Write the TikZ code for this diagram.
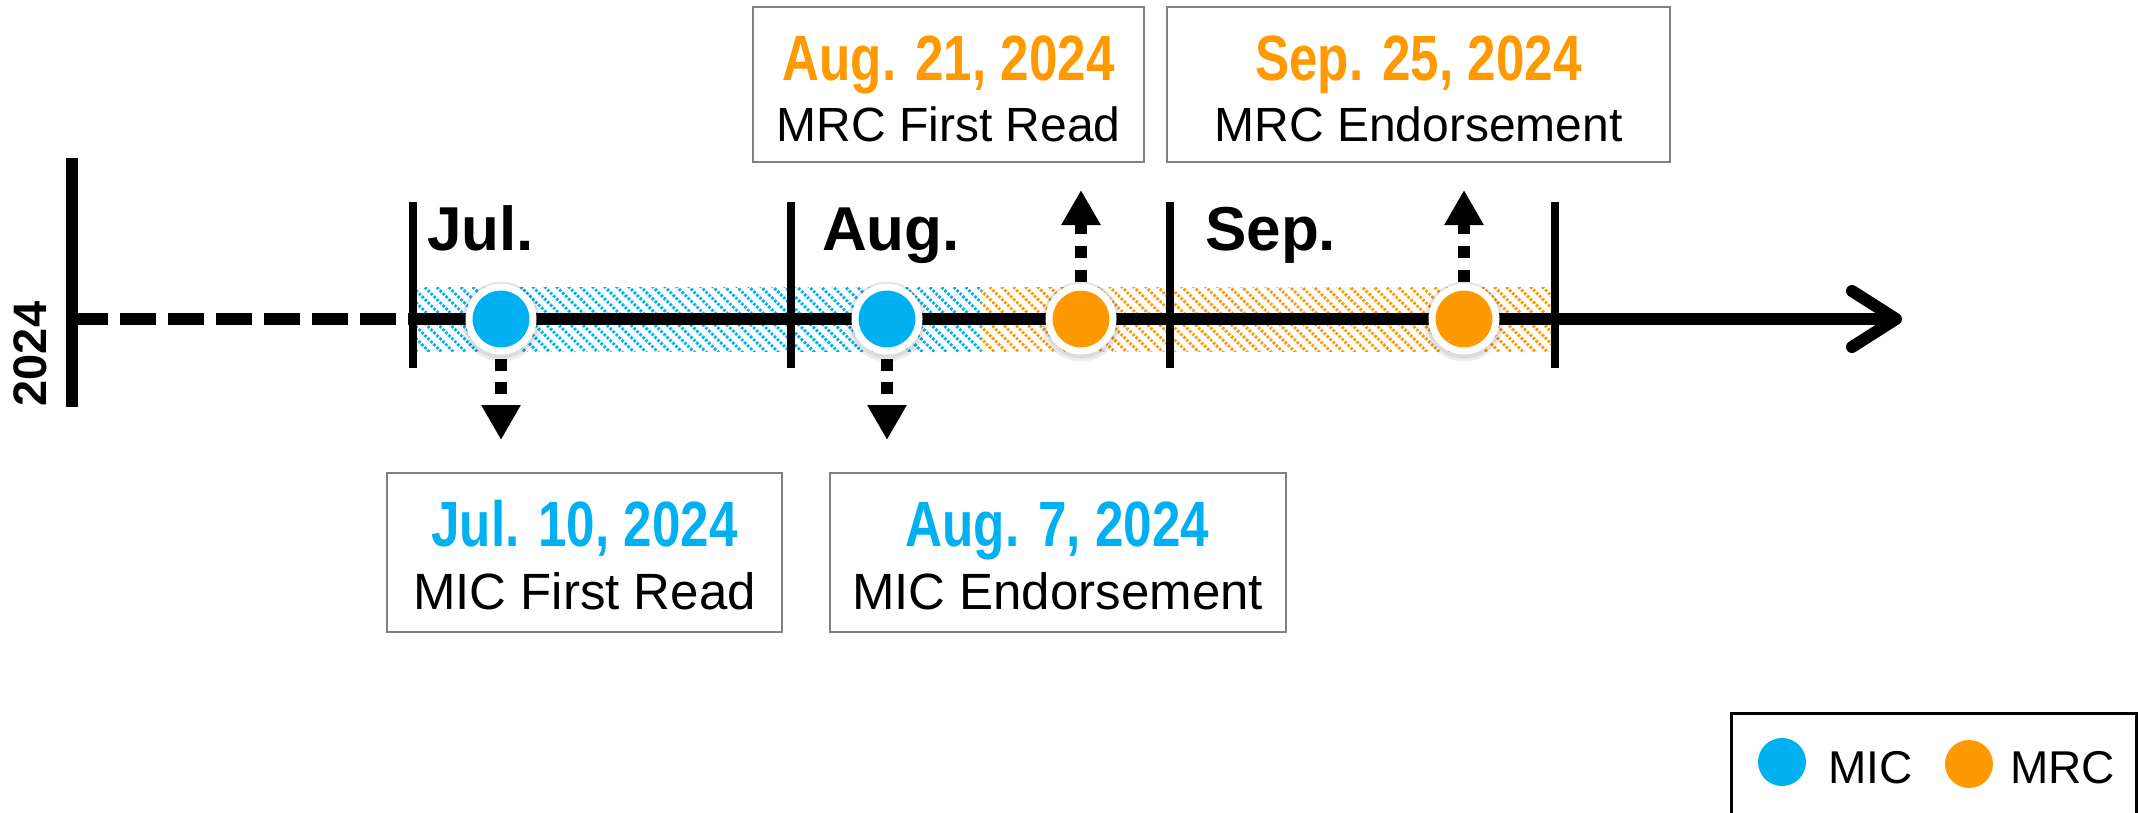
\documentclass[tikz,border=0pt]{standalone}
\usepackage{fontspec}
\setmainfont{Liberation Sans}
\newfontfamily\narrowfont[FakeStretch=0.80]{Liberation Sans}
\usetikzlibrary{arrows.meta,patterns.meta}
\definecolor{mic}{HTML}{00B0F0}
\definecolor{mrc}{HTML}{FF9900}
\definecolor{boxgray}{HTML}{808080}
\begin{document}
\begin{tikzpicture}[x=1pt,y=-1pt,
  datebox/.style={draw=boxgray, line width=2pt, rectangle, inner sep=0pt},
  datetxt/.style={anchor=base, inner sep=0pt, font=\narrowfont\bfseries\fontsize{64}{64}\selectfont},
  evtxt/.style={anchor=base, inner sep=0pt, font=\fontsize{51}{51}\selectfont},
  evtxtsm/.style={anchor=base, inner sep=0pt, font=\fontsize{48}{48}\selectfont},
  month/.style={anchor=base west, inner sep=0pt, font=\bfseries\fontsize{62}{62}\selectfont},
  legtxt/.style={anchor=base west, inner sep=0pt, font=\fontsize{46}{46}\selectfont},
  tickline/.style={line width=8pt},
  evdot/.style={circle, minimum size=64pt, inner sep=0pt, draw=white, line width=7pt, fill=#1},
  legdot/.style={circle, minimum size=48pt, inner sep=0pt, fill=#1},
  halo/.style={circle, minimum size=#1, inner sep=0pt, fill=black, opacity=0.07},
  pointer/.style={line width=12pt, dash pattern=on 12pt off 11pt, -{Triangle[length=35pt,width=37pt]}},
  hatch/.style={pattern={Lines[angle=-45,distance=8.5pt,line width=2.9pt]}, pattern color=#1},
  hatchbreak/.style={pattern={Lines[angle=45,distance=4.2pt,line width=1.4pt]}, pattern color=white},
]
\useasboundingbox (0,0) rectangle (2139,812);

% hatched bands
\fill[hatch=mic] (413,287) rectangle (981,351);
\fill[hatch=mrc] (981,287) rectangle (1555,351);
\fill[hatchbreak] (413,287) rectangle (1555,351);

% year bar
\coordinate (ytop) at (72,158);
\coordinate (ybot) at (72,407);
\coordinate (yax) at (72,319);
\draw[line width=12pt] (ytop) -- (ybot);
\node[rotate=90, inner sep=0pt, font=\bfseries\fontsize{47}{47}\selectfont] (year) at (30,354) {2024};

% ticks
\coordinate (t1) at (413,319);
\coordinate (t2) at (791,319);
\coordinate (t3) at (1170,319);
\coordinate (t4) at (1555,319);
\coordinate (tip) at (1902,319);
\foreach \t in {t1,t2,t3,t4}{
  \draw[tickline] ([yshift=117pt]\t) -- ([yshift=-49pt]\t);
}

% axis
\draw[line width=12pt, dash pattern=on 36pt off 12pt] (yax) -- (t1);
\draw[line width=12pt, -{Straight Barb[length=44pt,width=56pt,line cap=round,line join=round]}] (t1) -- (tip);

% month labels
\node[month] (mjul) at (427,250) {Jul.};
\node[month] (maug) at (822,250) {Aug.};
\node[month] (msep) at (1205,250) {Sep.};

% event dots
\foreach \n/\x/\c in {d1/501/mic, d2/887/mic, d3/1081/mrc, d4/1464/mrc}{
  \node[halo=80pt] at (\x,321.5) {};
  \node[halo=76pt] at (\x,320.5) {};
  \node[evdot=\c] (\n) at (\x,319) {};
}

% pointers
\coordinate (p1s) at (501,359);  \coordinate (p1e) at (501,440);
\coordinate (p2s) at (887,359);  \coordinate (p2e) at (887,440);
\coordinate (p3s) at (1081,282); \coordinate (p3e) at (1081,190);
\coordinate (p4s) at (1464,282); \coordinate (p4e) at (1464,190);
\draw[pointer] (p1s) -- (p1e);
\draw[pointer] (p2s) -- (p2e);
\draw[pointer, dash pattern=on 12pt off 12pt] (p3s) -- (p3e);
\draw[pointer, dash pattern=on 12pt off 12pt] (p4s) -- (p4e);

% boxes
\node[datebox, minimum width=395pt, minimum height=159pt] (b1) at (584.5,552.5) {};
\node[datetxt, text=mic] (b1d) at (584.5,546) {Jul. 10, 2024};
\node[evtxt] (b1e) at (584.5,609) {MIC First Read};

\node[datebox, minimum width=456pt, minimum height=159pt] (b2) at (1057.5,552.5) {};
\node[datetxt, text=mic] (b2d) at (1057.5,546) {Aug. 7, 2024};
\node[evtxt] (b2e) at (1057.5,609) {MIC Endorsement};

\node[datebox, minimum width=391pt, minimum height=155pt] (b3) at (948.5,84.5) {};
\node[datetxt, text=mrc] (b3d) at (948.5,80) {Aug. 21, 2024};
\node[evtxtsm] (b3e) at (948.5,141) {MRC First Read};

\node[datebox, minimum width=503pt, minimum height=155pt] (b4) at (1418.5,84.5) {};
\node[datetxt, text=mrc] (b4d) at (1418.5,80) {Sep. 25, 2024};
\node[evtxtsm] (b4e) at (1418.5,141) {MRC Endorsement};

% legend
\draw[line width=3pt] (1731,850) -- (1731,713) -- (2136,713) -- (2136,850);
\node[legdot=mic] (lmic) at (1782,762) {};
\node[legtxt] (lmict) at (1828,783) {MIC};
\node[legdot=mrc] (lmrc) at (1969,764) {};
\node[legtxt] (lmrct) at (2010,783) {MRC};
\end{tikzpicture}
\end{document}
